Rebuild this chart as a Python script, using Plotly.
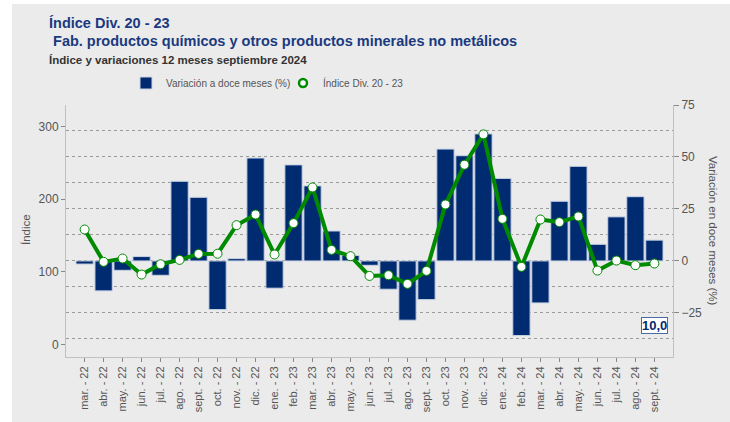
import plotly.graph_objects as go

categories = ["mar. - 22", "abr. - 22", "may. - 22", "jun. - 22", "jul. - 22", "ago. - 22",
              "sept. - 22", "oct. - 22", "nov. - 22", "dic. - 22", "ene. - 23", "feb. - 23",
              "mar. - 23", "abr. - 23", "may. - 23", "jun. - 23", "jul. - 23", "ago. - 23",
              "sept. - 23", "oct. - 23", "nov. - 23", "dic. - 23", "ene. - 24", "feb. - 24",
              "mar. - 24", "abr. - 24", "may. - 24", "jun. - 24", "jul. - 24", "ago. - 24",
              "sept. - 24"]

variacion = [-1.5, -14.4, -4.5, 2.1, -6.9, 38.3, 30.6, -23.4, 1.1, 49.5, -13.1, 46.2,
             36.1, 14.4, 2.6, -2.1, -13.6, -28.5, -18.6, 53.8, 50.6, 61.1, 39.7, -35.9,
             -20.2, 28.7, 45.5, 8.0, 21.2, 30.9, 10.0]

indice = [158.3, 113.7, 118.3, 96.2, 110.4, 116.4, 124.7, 124.9, 164.3, 179.0, 123.8, 167.1,
          216.3, 130.2, 121.5, 94.3, 95.3, 83.3, 101.2, 192.8, 247.6, 289.5, 173.0, 106.8,
          172.1, 168.4, 176.3, 101.7, 115.5, 109.1, 111.4]

FONT = "Liberation Sans, Arial, sans-serif"
BG = "#EBEBEB"
NAVY = "#002B70"
GREEN = "#008A00"
TXT = "#555555"

# plot area pixels
L, R, T, B = 66, 673, 105, 357
W, H = 730, 422
def px(x):
    return (x - L) / (R - L)
def py(y):
    return (B - y) / (B - T)

fig = go.Figure()
fig.add_trace(go.Bar(
    x=categories, y=variacion, name="Variación a doce meses (%)",
    marker=dict(color=NAVY, line=dict(color="#C8D2E4", width=1)),
    yaxis="y",
))
fig.add_trace(go.Scatter(
    x=categories, y=indice, name="Índice Div. 20 - 23", mode="lines+markers",
    line=dict(color=GREEN, width=4),
    marker=dict(symbol="circle", size=9, color="white", line=dict(color=GREEN, width=1)),
    yaxis="y2", showlegend=False,
))
# legend entry for the index (marker only, as in the reference legend)
fig.add_trace(go.Scatter(
    x=[None], y=[None], name="Índice Div. 20 - 23", mode="markers",
    marker=dict(symbol="circle", size=8, color="white", line=dict(color=GREEN, width=2.5)),
    yaxis="y2", showlegend=True,
))

fig.update_layout(
    width=W, height=H,
    margin=dict(l=L, r=W - R, t=T, b=H - B, autoexpand=False),
    paper_bgcolor=BG, plot_bgcolor=BG,
    font=dict(family=FONT, size=12, color=TXT),
    bargap=0.09,
    showlegend=True,
    legend=dict(orientation="h", x=px(126), y=py(83), xanchor="left", yanchor="middle",
                font=dict(size=10, color=TXT), bgcolor="rgba(0,0,0,0)",
                itemwidth=30, traceorder="normal", entrywidth=112, entrywidthmode="pixels"),
    xaxis=dict(type="category", range=[-0.98, 30.98], tickangle=-90,
               ticks="outside", ticklen=4, tickcolor="#888888",
               tickfont=dict(size=11, color=TXT), showline=True, linecolor="#C0C0C0",
               showgrid=False, zeroline=False, automargin=False),
    yaxis=dict(side="right", range=[-46.2, 75], tickvals=[-25, 0, 25, 50, 75],
               ticks="outside", ticklen=5, tickcolor="#888888",
               tickfont=dict(size=12, color=TXT), showline=True, linecolor="#C0C0C0",
               showgrid=True, gridcolor="#9A9A9A", griddash="3px,3px", gridwidth=1,
               minor=dict(tickvals=[-37.5, -12.5, 12.5, 37.5, 62.5], showgrid=True,
                          gridcolor="#9A9A9A", griddash="3px,3px", ticks=""),
               zeroline=False, automargin=False),
    yaxis2=dict(overlaying="y", side="left", range=[-17.5, 330], tickvals=[0, 100, 200, 300],
                ticks="outside", ticklen=4, tickcolor="#888888",
                tickfont=dict(size=12, color=TXT), showline=True, linecolor="#C0C0C0",
                showgrid=False, zeroline=False, automargin=False),
)

# white outer strips
fig.add_shape(type="rect", xref="paper", yref="paper", x0=px(0), x1=px(12), y0=py(H), y1=py(0),
              fillcolor="white", line=dict(width=0), layer="below")
fig.add_shape(type="rect", xref="paper", yref="paper", x0=px(0), x1=px(W), y0=py(4), y1=py(0),
              fillcolor="white", line=dict(width=0), layer="below")

titles = [
    ("Índice Div. 20 - 23", 23, 14.5, "#1A3A80"),
    (" Fab. productos químicos y otros productos minerales no metálicos", 41, 14.5, "#1A3A80"),
    ("Índice y variaciones 12 meses septiembre 2024", 60, 11.5, "#333333"),
]
for text, y, size, color in titles:
    fig.add_annotation(text=f"<b>{text}</b>", xref="paper", yref="paper", x=px(47), y=py(y),
                       xanchor="left", yanchor="middle", showarrow=False,
                       font=dict(size=size, color=color, family=FONT))

fig.add_annotation(text="Índice", xref="paper", yref="paper", x=px(26), y=py(230),
                   xanchor="center", yanchor="middle",
                   textangle=-90, showarrow=False, font=dict(size=11.5, color=TXT))
fig.add_annotation(text="Variación en doce meses (%)", xref="paper", yref="paper", x=px(713),
                   y=py(231), xanchor="center", yanchor="middle",
                   textangle=90, showarrow=False, font=dict(size=11.5, color=TXT))

last = variacion[-1]
fig.add_annotation(text=f"<b>{last:.1f}</b>".replace(".", ","), xref="x", yref="paper",
                   x=categories[-1], y=py(325), xanchor="center", yanchor="middle",
                   showarrow=False,
                   font=dict(size=13, color=NAVY), bgcolor="white",
                   bordercolor="#4A6AA5", borderwidth=1, borderpad=0)

fig.write_html(
    "out.html",
    config={"displayModeBar": False},
    post_script=("document.body.style.margin='0';"
                 "document.body.style.overflow='hidden';"
                 "document.body.style.background='" + BG + "';"
                 "document.documentElement.style.background='" + BG + "';"
                 "document.documentElement.style.overflow='hidden';"),
)
